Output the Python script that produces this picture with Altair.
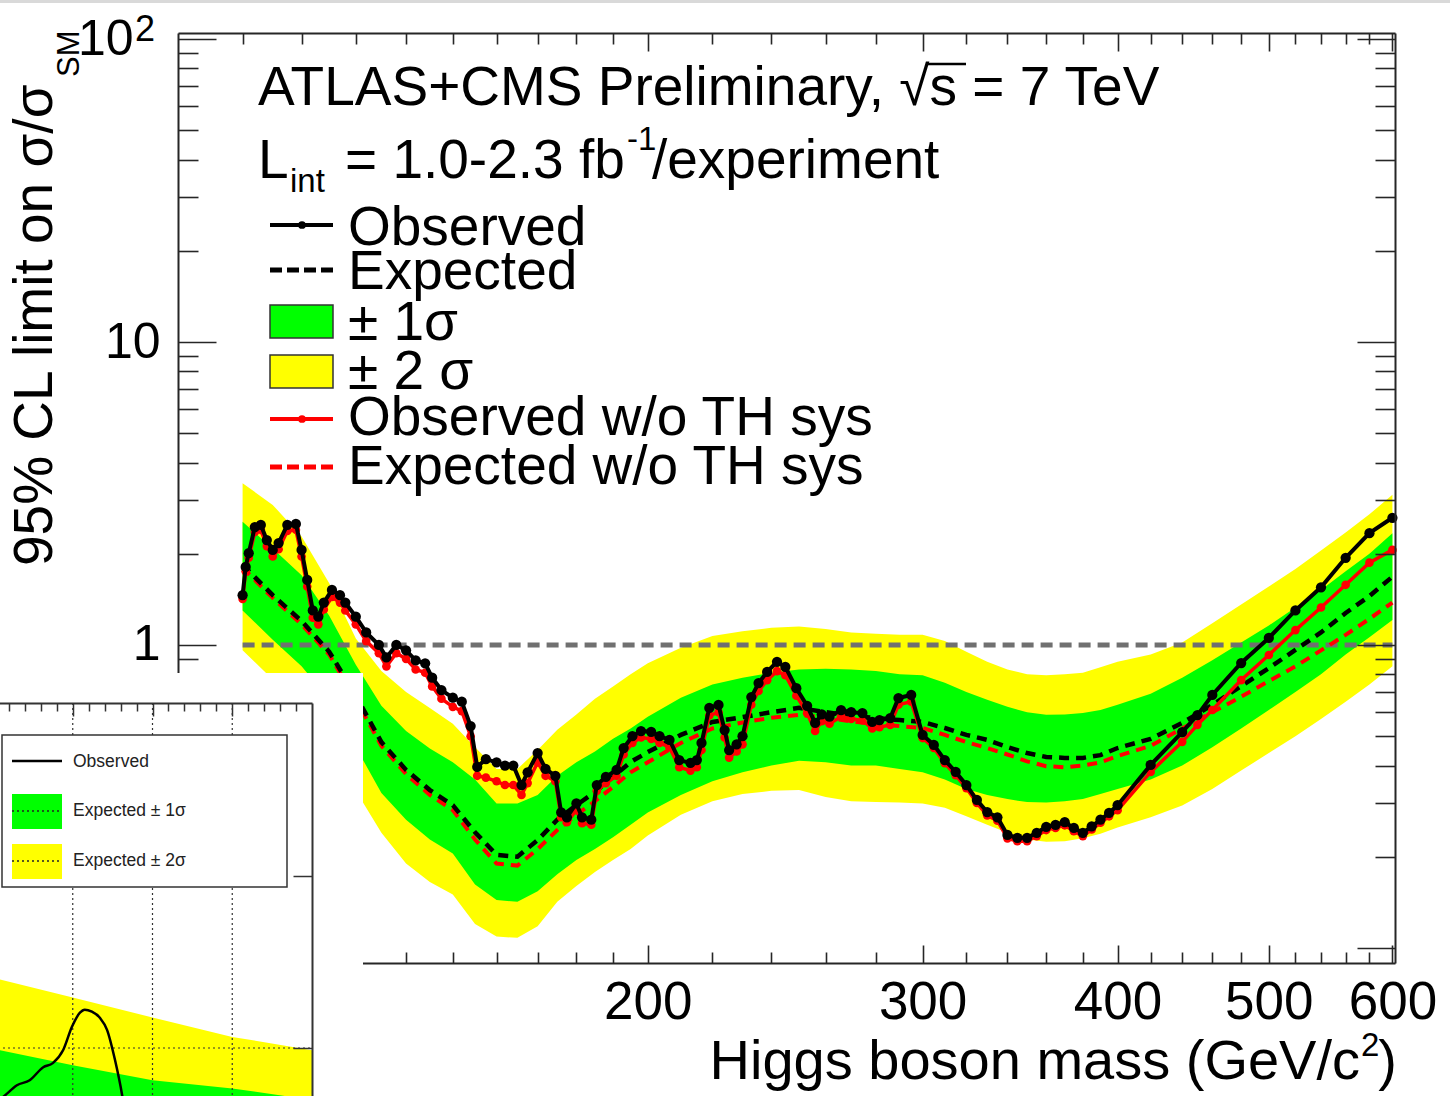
import altair as alt
import pandas as pd

FONT = "Liberation Sans"
W, H = 1217, 930          # plot area
PAD_L, PAD_T = 178, 33    # plot area origin on the page

# ---------------- main data ----------------
obs_mass = [110, 110.5, 111, 112, 113, 114, 115, 116, 117.5, 119, 120, 121, 122, 123, 124,
            125.5, 127, 128, 130, 132, 134.5, 136, 138, 140, 142, 144, 145.5, 147.5, 150, 152, 154,
            155.5, 157.5, 160, 162, 164, 166, 167.5, 170, 172, 174.5, 176, 177.5, 180, 181.5,
            184, 185.5, 188, 191, 193, 195.5, 198,
            201, 203.5, 206.5, 209.5, 213, 215, 216.5, 219, 222, 224, 225.5, 228, 230, 233,
            235.5, 238.5, 242, 245, 249, 253, 256, 258.5, 261.5, 266, 270, 274.5, 278.5, 281.5,
            286, 289.5, 295,
            300, 305, 310, 315, 320, 325, 330, 335, 340, 345, 350, 355, 360, 365, 370, 375,
            380, 385, 390, 395, 400,
            420, 440, 450, 460, 480, 500, 520, 540, 560, 580, 600]
obs_black = [1.46, 1.81, 2.01, 2.45, 2.49, 2.22, 2.06, 2.17, 2.49, 2.51, 2.06, 1.64, 1.30, 1.24, 1.38,
             1.52, 1.46, 1.38, 1.24, 1.10, 1.00, 0.91, 1.00, 0.96, 0.89, 0.87, 0.78, 0.71, 0.67, 0.65, 0.54,
             0.396, 0.42, 0.41, 0.40, 0.40, 0.345, 0.38, 0.44, 0.39, 0.37, 0.28, 0.27, 0.30, 0.27,
             0.265, 0.345, 0.367, 0.387, 0.457, 0.50, 0.52,
             0.517, 0.50, 0.486, 0.417, 0.408, 0.417, 0.475, 0.62, 0.634, 0.524, 0.45, 0.47, 0.50, 0.673,
             0.749, 0.815, 0.88, 0.846, 0.72, 0.63, 0.553, 0.59, 0.58, 0.61, 0.60, 0.596, 0.557, 0.565,
             0.574, 0.668, 0.684,
             0.505, 0.468, 0.417, 0.381, 0.345, 0.308, 0.281, 0.270, 0.236, 0.231, 0.231, 0.24, 0.251,
             0.255, 0.26, 0.249, 0.24, 0.252, 0.265, 0.279, 0.296,
             0.402, 0.516, 0.587, 0.684, 0.872, 1.055, 1.30, 1.55, 1.94, 2.34, 2.63]
obs_red = [1.42, 1.75, 1.94, 2.36, 2.40, 2.12, 1.96, 2.07, 2.38, 2.40, 1.96, 1.56, 1.23, 1.17, 1.31,
           1.44, 1.38, 1.30, 1.17, 1.03, 0.94, 0.85, 0.94, 0.90, 0.83, 0.81, 0.73, 0.665, 0.625, 0.605, 0.50,
           0.37, 0.365, 0.355, 0.345, 0.345, 0.32, 0.35, 0.41, 0.37, 0.355, 0.27, 0.26, 0.285, 0.258,
           0.255, 0.33, 0.35, 0.37, 0.435, 0.475, 0.495,
           0.49, 0.475, 0.46, 0.395, 0.385, 0.395, 0.45, 0.585, 0.60, 0.495, 0.425, 0.445, 0.47, 0.635,
           0.705, 0.765, 0.82, 0.795, 0.68, 0.595, 0.52, 0.56, 0.55, 0.58, 0.57, 0.565, 0.53, 0.535,
           0.545, 0.635, 0.65,
           0.493, 0.457, 0.407, 0.372, 0.337, 0.301, 0.274, 0.263, 0.23, 0.225, 0.225, 0.234, 0.245,
           0.249, 0.254, 0.243, 0.234, 0.246, 0.259, 0.272, 0.285,
           0.381, 0.479, 0.545, 0.61, 0.766, 0.927, 1.12, 1.33, 1.58, 1.87, 2.06]

band_mass = [110, 115, 120, 125, 130, 135, 140, 145, 150, 155, 160, 165, 170, 175, 180, 185, 190, 195,
             200, 210, 220, 230, 240, 250, 260, 270, 280, 290, 300, 310, 320, 330, 340, 350, 360, 370,
             380, 390, 400, 420, 440, 460, 480, 500, 520, 540, 560, 580, 600]
exp_black = [1.84, 1.46, 1.20, 0.95, 0.68, 0.478, 0.387, 0.332, 0.296, 0.241, 0.203, 0.200, 0.227,
             0.265, 0.296, 0.327, 0.367, 0.411, 0.443, 0.505, 0.557, 0.578, 0.60, 0.62, 0.60, 0.583,
             0.574, 0.565, 0.557, 0.532, 0.505, 0.486, 0.46, 0.44, 0.427, 0.424, 0.424, 0.433, 0.457,
             0.49, 0.553, 0.634, 0.732, 0.839, 0.963, 1.10, 1.275, 1.45, 1.68]
exp_red = [1.80, 1.43, 1.17, 0.93, 0.66, 0.465, 0.375, 0.32, 0.285, 0.228, 0.19, 0.187, 0.212,
           0.245, 0.275, 0.305, 0.34, 0.38, 0.41, 0.475, 0.53, 0.555, 0.575, 0.588, 0.575, 0.56,
           0.548, 0.54, 0.532, 0.505, 0.478, 0.457, 0.435, 0.413, 0.398, 0.395, 0.40, 0.41, 0.43,
           0.465, 0.53, 0.60, 0.675, 0.76, 0.85, 0.96, 1.08, 1.22, 1.38]
band_1s_lo = [1.30, 1.04, 0.85, 0.66, 0.46, 0.325, 0.265, 0.228, 0.205, 0.162, 0.144, 0.142, 0.154,
              0.175, 0.195, 0.212, 0.232, 0.255, 0.28, 0.32, 0.355, 0.38, 0.40, 0.415, 0.41, 0.40,
              0.40, 0.39, 0.38, 0.36, 0.335, 0.32, 0.31, 0.303, 0.302, 0.305, 0.31, 0.322, 0.335,
              0.36, 0.40, 0.46, 0.53, 0.61, 0.70, 0.80, 0.93, 1.06, 1.21]
band_1s_hi = [2.55, 2.08, 1.70, 1.25, 0.86, 0.63, 0.52, 0.455, 0.41, 0.36, 0.30, 0.30, 0.32,
              0.37, 0.41, 0.445, 0.49, 0.53, 0.58, 0.67, 0.74, 0.78, 0.81, 0.83, 0.835, 0.83,
              0.82, 0.80, 0.795, 0.75, 0.70, 0.66, 0.625, 0.60, 0.588, 0.59, 0.596, 0.61, 0.635,
              0.69, 0.78, 0.89, 1.02, 1.16, 1.33, 1.52, 1.75, 2.00, 2.34]
band_2s_lo = [0.96, 0.77, 0.62, 0.48, 0.33, 0.24, 0.19, 0.165, 0.15, 0.12, 0.109, 0.108, 0.118,
              0.142, 0.16, 0.178, 0.195, 0.212, 0.235, 0.275, 0.305, 0.322, 0.33, 0.332, 0.315, 0.305,
              0.303, 0.302, 0.30, 0.29, 0.272, 0.255, 0.24, 0.228, 0.224, 0.225, 0.23, 0.238, 0.25,
              0.27, 0.295, 0.335, 0.385, 0.44, 0.50, 0.57, 0.65, 0.74, 0.85]
band_2s_hi = [3.42, 2.90, 2.28, 1.60, 1.05, 0.82, 0.70, 0.62, 0.55, 0.46, 0.39, 0.39, 0.45,
              0.525, 0.59, 0.665, 0.73, 0.80, 0.87, 0.98, 1.07, 1.11, 1.14, 1.15, 1.13, 1.10,
              1.09, 1.08, 1.08, 1.03, 0.95, 0.88, 0.83, 0.80, 0.795, 0.80, 0.81, 0.845, 0.88,
              0.93, 1.02, 1.18, 1.36, 1.56, 1.78, 2.05, 2.35, 2.70, 3.13]

sm_line_mass = [110, 600]
sm_line_val = [1, 1]

x_major_ticks = [200, 300, 400, 500, 600]
x_minor_ticks = [110, 120, 130, 140, 150, 160, 170, 180, 190, 220, 240, 260, 280, 320, 340, 360,
                 380, 420, 440, 460, 480, 520, 540, 560, 580]
y_ticks = [0.1, 0.2, 0.3, 0.4, 0.5, 0.6, 0.7, 0.8, 0.9, 1, 2, 3, 4, 5, 6, 7, 8, 9,
           10, 20, 30, 40, 50, 60, 70, 80, 90, 100]
y_label_ticks = [1, 10]

# ---------------- inset (pasted plot, lower left) ----------------
inset_band_x = [100, 110, 120, 130, 140]
inset_2s_hi = [2.55, 1.96, 1.50, 1.16, 0.97]
inset_1s_hi = [0.99, 0.795, 0.65, 0.583, 0.50]
inset_obs_x = [100.0, 101.5, 103.0, 104.6, 106.3, 107.5, 108.8, 109.9, 110.9, 111.5, 112.4,
               113.4, 114.3, 115.3, 116.2, 116.7]
inset_obs_y = [0.464, 0.531, 0.608, 0.650, 0.774, 0.817, 0.973, 1.327, 1.602, 1.668, 1.623,
               1.497, 1.274, 0.851, 0.531, 0.379]
inset_grid_x = [110, 120, 130]
inset_x_ticks = [102, 104, 106, 108, 110, 112, 114, 116, 118, 120, 122, 124, 126, 128, 130,
                 132, 134, 136, 138]
inset_y_ticks = [1, 10]

# ---------------- tables ----------------
band_df = pd.DataFrame(dict(mass=band_mass, exp=exp_black, exp_red=exp_red,
                            g_lo=band_1s_lo, g_hi=band_1s_hi, y_lo=band_2s_lo, y_hi=band_2s_hi))
obs_df = pd.DataFrame(dict(mass=obs_mass, obs=obs_black, obs_red=obs_red))
sm_df = pd.DataFrame(dict(mass=sm_line_mass, val=sm_line_val))
ONE = pd.DataFrame({"k": [0]})
AXD = pd.DataFrame({"mass": [200], "v": [1], "ix": [120], "iy": [1]})
ib_df = pd.DataFrame(dict(ix=inset_band_x, y2s=inset_2s_hi, y1s=inset_1s_hi))
io_df = pd.DataFrame(dict(ix=inset_obs_x, iy=inset_obs_y))
ig_df = pd.DataFrame(dict(ix=inset_grid_x))


def XS():
    return alt.Scale(type="log", domain=[100, 602.3], nice=False)


def YS():
    return alt.Scale(type="log", domain=[0.0892, 104.7], nice=False)


def XIS():
    return alt.Scale(type="linear", domain=[100, 140], range=[-185, 134], zero=False, nice=False)


def YIS():
    return alt.Scale(type="log", domain=[0.1, 100], range=[1187.5, 670], nice=False)


def xm(axis=None):
    return alt.X("mass:Q", scale=XS(), axis=axis)


def ym(field, axis=None):
    return alt.Y(f"{field}:Q", scale=YS(), axis=axis)


def xi(field="ix", axis=None):
    return alt.X(f"{field}:Q", scale=XIS(), axis=axis)


def yi(field, axis=None):
    return alt.Y(f"{field}:Q", scale=YIS(), axis=axis)


def text(s, xp, yp, size=55, align="left", baseline="alphabetic", angle=0, color="black"):
    mk = dict(text=s, font=FONT, fontSize=size, align=align, baseline=baseline, color=color)
    if angle:
        mk["angle"] = angle
    return alt.Chart(ONE).mark_text(**mk).encode(x=alt.value(xp - PAD_L), y=alt.value(yp - PAD_T))


def hline(xp1, xp2, yp, color, width, dash=None):
    mk = dict(color=color, strokeWidth=width)
    if dash:
        mk["strokeDash"] = dash
    return alt.Chart(ONE).mark_rule(**mk).encode(
        x=alt.value(xp1 - PAD_L), x2=alt.value(xp2 - PAD_L), y=alt.value(yp - PAD_T))


def box(xp1, yp1, xp2, yp2, fill, stroke=None, sw=0):
    mk = dict(fill=fill, opacity=1)
    if stroke:
        mk["stroke"] = stroke
        mk["strokeWidth"] = sw
    return alt.Chart(ONE).mark_rect(**mk).encode(
        x=alt.value(xp1 - PAD_L), x2=alt.value(xp2 - PAD_L),
        y=alt.value(yp1 - PAD_T), y2=alt.value(yp2 - PAD_T))


def dot(xp, yp, color, size):
    return alt.Chart(ONE).mark_circle(color=color, size=size, opacity=1).encode(
        x=alt.value(xp - PAD_L), y=alt.value(yp - PAD_T))


FRAME = "#262626"
x_tick_size = {"condition": {"test": "datum.value % 100 === 0", "value": 18}, "value": 11}
y_tick_size = {"condition": {"test": "datum.value === 0.1 || datum.value === 1 || datum.value === 10 || datum.value === 100",
                             "value": 38}, "value": 20}
common_tick = dict(labels=False, grid=False, title=None, domain=True, domainColor=FRAME,
                   domainWidth=2, tickColor=FRAME, tickWidth=1.6)

# ---------------- axes (invisible carrier layers) ----------------
ax_x_labels = alt.Chart(AXD).mark_point(opacity=0).encode(x=xm(alt.Axis(
    orient="bottom", values=x_major_ticks, format="d", ticks=False, domain=False, grid=False,
    labelFont=FONT, labelFontSize=53, labelColor="black", labelPadding=13, labelFlush=False,
    labelOverlap=False, title=None)))
ax_x_bottom = alt.Chart(AXD).mark_point(opacity=0).encode(x=xm(alt.Axis(
    orient="top", offset=-H, values=x_major_ticks + x_minor_ticks, tickSize=x_tick_size, **common_tick)))
ax_x_top = alt.Chart(AXD).mark_point(opacity=0).encode(x=xm(alt.Axis(
    orient="bottom", offset=-H, values=x_major_ticks + x_minor_ticks, tickSize=x_tick_size, **common_tick)))
ax_y_labels = alt.Chart(AXD).mark_point(opacity=0).encode(y=ym("v", alt.Axis(
    orient="left", values=y_label_ticks, format="d", ticks=False, domain=False, grid=False,
    labelFont=FONT, labelFontSize=50, labelColor="black", labelPadding=18, labelOverlap=False,
    title=None)))
ax_y_label100 = alt.Chart(AXD).mark_point(opacity=0).encode(y=ym("v", alt.Axis(
    orient="left", values=[100], labelExpr="'10'", ticks=False, domain=False, grid=False,
    labelFont=FONT, labelFontSize=50, labelColor="black", labelPadding=45, labelOverlap=False,
    title=None)))
ax_y_left = alt.Chart(AXD).mark_point(opacity=0).encode(y=ym("v", alt.Axis(
    orient="right", offset=-W, values=y_ticks, tickSize=y_tick_size, **common_tick)))
ax_y_right = alt.Chart(AXD).mark_point(opacity=0).encode(y=ym("v", alt.Axis(
    orient="left", offset=-W, values=y_ticks, tickSize=y_tick_size, zindex=1, **common_tick)))

# ---------------- main marks ----------------
yellow = alt.Chart(band_df).mark_area(color="#ffff00", opacity=1).encode(
    x=xm(), y=ym("y_lo"), y2="y_hi")
green = alt.Chart(band_df).mark_area(color="#00ff00", opacity=1).encode(
    x=xm(), y=ym("g_lo"), y2="g_hi")
sm = alt.Chart(sm_df).mark_line(color="#707070", strokeWidth=5, strokeDash=[12, 7]).encode(
    x=xm(), y=ym("val"))
exp_r = alt.Chart(band_df).mark_line(color="#ff0000", strokeWidth=4, strokeDash=[10, 7]).encode(
    x=xm(), y=ym("exp_red"))
exp_b = alt.Chart(band_df).mark_line(color="black", strokeWidth=4.5, strokeDash=[10, 7]).encode(
    x=xm(), y=ym("exp"))
obs_r_line = alt.Chart(obs_df).mark_line(color="#ff0000", strokeWidth=3.5).encode(x=xm(), y=ym("obs_red"))
obs_r_pts = alt.Chart(obs_df).mark_circle(color="#ff0000", size=75, opacity=1).encode(x=xm(), y=ym("obs_red"))
obs_b_line = alt.Chart(obs_df).mark_line(color="black", strokeWidth=4).encode(x=xm(), y=ym("obs"))
obs_b_pts = alt.Chart(obs_df).mark_circle(color="black", size=105, opacity=1).encode(x=xm(), y=ym("obs"))

# ---------------- legend & labels ----------------
legend = [
    hline(270, 333, 225, "black", 4), dot(302, 225, "black", 60),
    hline(270, 333, 270, "black", 5, [12, 5]),
    box(270, 305, 333, 338, "#00ff00", "#333333", 1.5),
    box(270, 355, 333, 388, "#ffff00", "#333333", 1.5),
    hline(270, 333, 419, "#ff0000", 4), dot(302, 419, "#ff0000", 60),
    hline(270, 333, 467, "#ff0000", 5, [12, 5]),
    text("Observed", 348, 245),
    text("Expected", 348, 289),
    text("± 1σ", 348, 340),
    text("± 2 σ", 348, 389),
    text("Observed w/o TH sys", 348, 435),
    text("Expected w/o TH sys", 348, 484),
    text("ATLAS+CMS Preliminary, √s = 7 TeV", 258, 105),
    hline(928, 966, 64, "black", 2.5),
    text("L", 258, 178),
    text("int", 290, 192, size=33),
    text("= 1.0-2.3 fb", 345, 178),
    text("-1", 627, 150, size=33),
    text("/experiment", 652, 178),
]
titles = [
    text("95% CL limit on σ/σ", 52, 566, size=55, angle=270),
    text("SM", 79, 77, size=31, angle=270),
    text("2", 135, 41, size=36),
    text("Higgs boson mass (GeV/c", 1360, 1079, size=56, align="right"),
    text("2", 1361, 1056, size=33),
    text(")", 1397, 1079, size=56, align="right"),
    box(0, 0, 1450, 3, "#d9d9d9"),
]

# ---------------- inset ----------------
inset = [
    box(-10, 673, 363, 1110, "white"),
    alt.Chart(ib_df).mark_area(color="#ffff00", opacity=1).encode(
        x=xi(), y=yi("y2s"), y2=alt.Y2Datum(0.2)),
    alt.Chart(ib_df).mark_area(color="#00ff00", opacity=1).encode(
        x=xi(), y=yi("y1s"), y2=alt.Y2Datum(0.2)),
    alt.Chart(ig_df).mark_rule(color="#333333", strokeWidth=1.2, strokeDash=[2, 3]).encode(
        x=xi(), y=alt.YDatum(100, scale=YIS(), axis=None), y2=alt.Y2Datum(0.2)),
    alt.Chart(ONE).mark_rule(color="#333333", strokeWidth=1.2, strokeDash=[2, 3]).encode(
        x=alt.XDatum(100, scale=XIS(), axis=None), x2=alt.X2Datum(140),
        y=alt.YDatum(1, scale=YIS(), axis=None)),
    alt.Chart(io_df).mark_line(color="black", strokeWidth=2.5, interpolate="monotone").encode(
        x=xi(), y=yi("iy")),
    alt.Chart(AXD).mark_point(opacity=0).encode(x=xi("ix", alt.Axis(
        orient="bottom", offset=670 - H, values=inset_x_ticks, labels=False, grid=False, title=None,
        domainColor="#333333", domainWidth=2, tickColor="#333333", tickWidth=1.5, zindex=1,
        tickSize={"condition": {"test": "datum.value % 10 === 0", "value": 13}, "value": 8}))),
    alt.Chart(AXD).mark_point(opacity=0).encode(y=yi("iy", alt.Axis(
        orient="left", offset=-134, values=inset_y_ticks, labels=False, grid=False, title=None,
        domainColor="#333333", domainWidth=2, tickColor="#333333", tickWidth=1.5, tickSize=19,
        zindex=1))),
    box(2, 735, 287, 887, "white", "#333333", 1.5),
    hline(12, 62, 761, "black", 2.5),
    box(12, 794, 62, 829, "#00ff00"),
    hline(12, 62, 811, "#222222", 1.5, [2, 3]),
    box(12, 844, 62, 879, "#ffff00"),
    hline(12, 62, 861, "#222222", 1.5, [2, 3]),
    text("Observed", 73, 767, size=17.5, color="#222222"),
    text("Expected ± 1σ", 73, 816, size=17.5, color="#222222"),
    text("Expected ± 2σ", 73, 866, size=17.5, color="#222222"),
]

layers = ([ax_x_labels, ax_x_bottom, ax_x_top, ax_y_labels, ax_y_label100, ax_y_left, ax_y_right,
           yellow, green, sm, exp_r, exp_b, obs_r_line, obs_r_pts, obs_b_line, obs_b_pts]
          + legend + titles + inset)

chart = alt.layer(*layers).resolve_scale(x="independent", y="independent").properties(
    width=W, height=H, autosize="none",
    padding={"left": PAD_L, "top": PAD_T, "right": 1450 - PAD_L - W, "bottom": 1096 - PAD_T - H},
).configure_view(strokeWidth=0).configure(background="white")

chart.save("out.html", embed_options={"renderer": "svg", "actions": False})
